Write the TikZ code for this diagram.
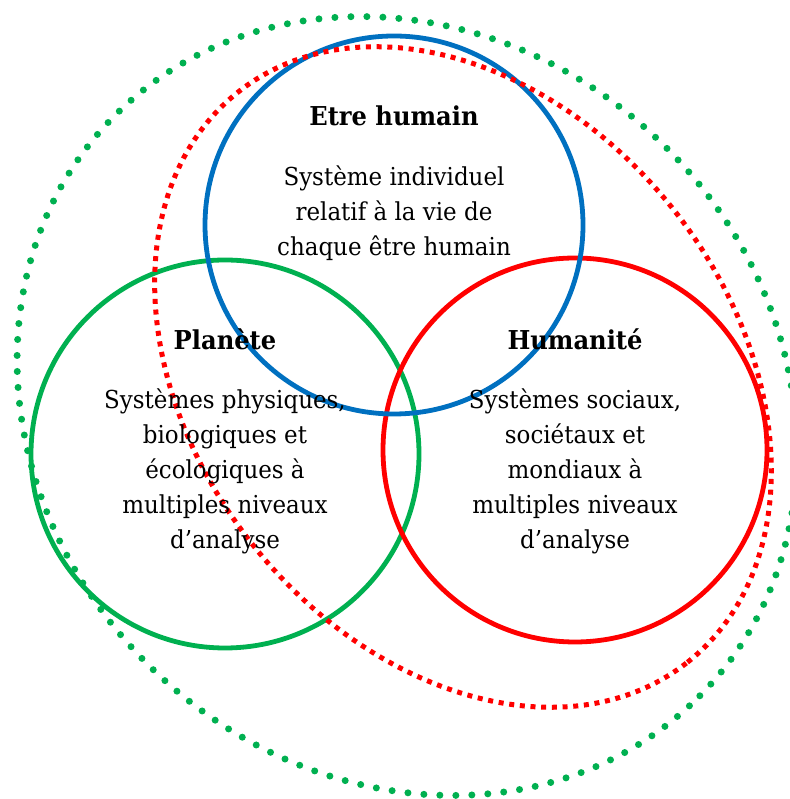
\documentclass[tikz,border=0pt]{standalone}
\usepackage{fontspec}
\setmainfont{DejaVu Serif}[FakeStretch=0.93]
\usepackage{tikz}
\definecolor{bleu}{RGB}{0,112,192}
\definecolor{vert}{RGB}{0,176,80}
\definecolor{rouge}{RGB}{255,0,0}

\begin{document}
\begin{tikzpicture}[x=1pt,y=1pt]
% Styles (MODIFIABLES)
\tikzstyle{cercle}=[circle,draw,line width=4.8pt,inner sep=0pt]
\tikzstyle{pointille}=[vert,line width=7pt,line cap=round,dash pattern=on 0pt off 16pt]
\tikzstyle{tirets}=[rouge,line width=5pt,dash pattern=on 5pt off 5.7pt]
\tikzstyle{titre}=[font=\fontsize{26}{35}\selectfont\bfseries]
\tikzstyle{texte}=[align=center,font=\fontsize{24.7}{35}\selectfont]
% Cadre
\useasboundingbox (0,0) rectangle (789,799);
% Cercles
\node[cercle,draw=vert,minimum size=388] (planete) at (225,345) {};
\node[cercle,draw=rouge,minimum size=384] (humanite) at (575,349) {};
\node[cercle,draw=bleu,minimum size=378] (humain) at (394,574) {};
% Ellipses en pointilles
\draw[pointille,rotate around={-44.7:(407,393)}] (407,393) ellipse [x radius=412,y radius=366];
\draw[tirets,rotate around={-51.8:(463,422)}] (463,422) ellipse [x radius=363,y radius=269];
% Textes
\node[titre] (titreHumain) at (394,683) {Etre humain};
\node[texte] (texteHumain) at (394,586) {Système individuel\\relatif à la vie de\\chaque être humain};
\node[titre] (titrePlanete) at (225,460) {Planète};
\node[texte] (textePlanete) at (225,328) {Systèmes physiques,\\biologiques et\\écologiques à\\multiples niveaux\\d’analyse};
\node[titre] (titreHumanite) at (575,460) {Humanité};
\node[texte] (texteHumanite) at (575,328) {Systèmes sociaux,\\sociétaux et\\mondiaux à\\multiples niveaux\\d’analyse};
\end{tikzpicture}
\end{document}
